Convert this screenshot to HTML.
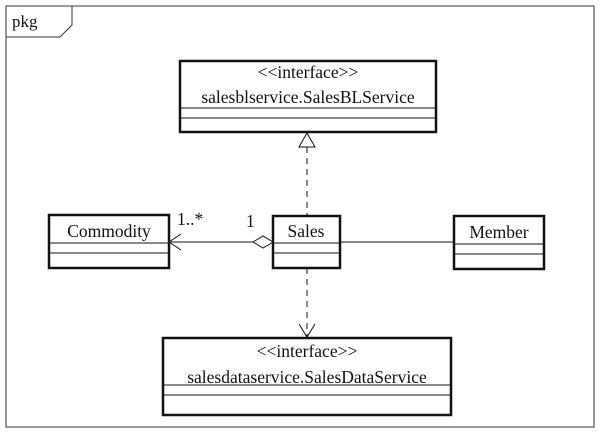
<!DOCTYPE html>
<html><head><style>body{margin:0;background:#fff}</style></head><body>
<svg width="602" height="440" viewBox="0 0 602 440" xmlns="http://www.w3.org/2000/svg" font-family="Liberation Serif, serif" font-size="17.5" fill="#111">
<rect x="6" y="6" width="588" height="421" fill="none" stroke="#333" stroke-width="1"/>
<path d="M6,37 H60 L72,25 V6" fill="none" stroke="#333" stroke-width="1"/>
<text x="12" y="27" font-size="17">pkg</text>
<g fill="none" stroke="#111">
<rect x="180" y="61" width="256" height="71" stroke-width="2.5"/>
<line x1="180" y1="108" x2="436" y2="108"/><line x1="180" y1="118" x2="436" y2="118"/>
<rect x="49" y="215" width="120" height="53" stroke-width="2.5"/>
<line x1="49" y1="243" x2="169" y2="243"/><line x1="49" y1="253" x2="169" y2="253"/>
<rect x="273" y="216" width="67" height="52" stroke-width="2.5"/>
<line x1="273" y1="243" x2="340" y2="243"/><line x1="273" y1="253" x2="340" y2="253"/>
<rect x="454" y="216" width="90" height="53" stroke-width="2.5"/>
<line x1="454" y1="244" x2="544" y2="244"/><line x1="454" y1="254" x2="544" y2="254"/>
<rect x="163" y="338" width="288" height="77" stroke-width="2.5"/>
<line x1="163" y1="385" x2="451" y2="385"/><line x1="163" y1="395" x2="451" y2="395"/>
<line x1="169" y1="242" x2="253" y2="242"/>
<polygon points="253,242 263,236 273,242 263,248" fill="#fff"/>
<polyline points="181,234 169,242 181,250"/>
<line x1="340" y1="242" x2="454" y2="242"/>
<line x1="307" y1="147" x2="307" y2="216" stroke-dasharray="6,5"/>
<polygon points="307,133 299,147 315,147" fill="#fff"/>
<line x1="307" y1="268" x2="307" y2="337" stroke-dasharray="6,5"/>
<polyline points="299,324 307,337 315,324"/>
</g>
<g text-anchor="middle">
<text x="308" y="78">&lt;&lt;interface&gt;&gt;</text>
<text x="308" y="103">salesblservice.SalesBLService</text>
<text x="109" y="237">Commodity</text>
<text x="306" y="237">Sales</text>
<text x="499" y="238">Member</text>
<text x="307" y="357">&lt;&lt;interface&gt;&gt;</text>
<text x="307" y="383">salesdataservice.SalesDataService</text>
</g>
<text x="177" y="225">1..*</text>
<text x="246" y="227">1</text>
</svg>
</body></html>
